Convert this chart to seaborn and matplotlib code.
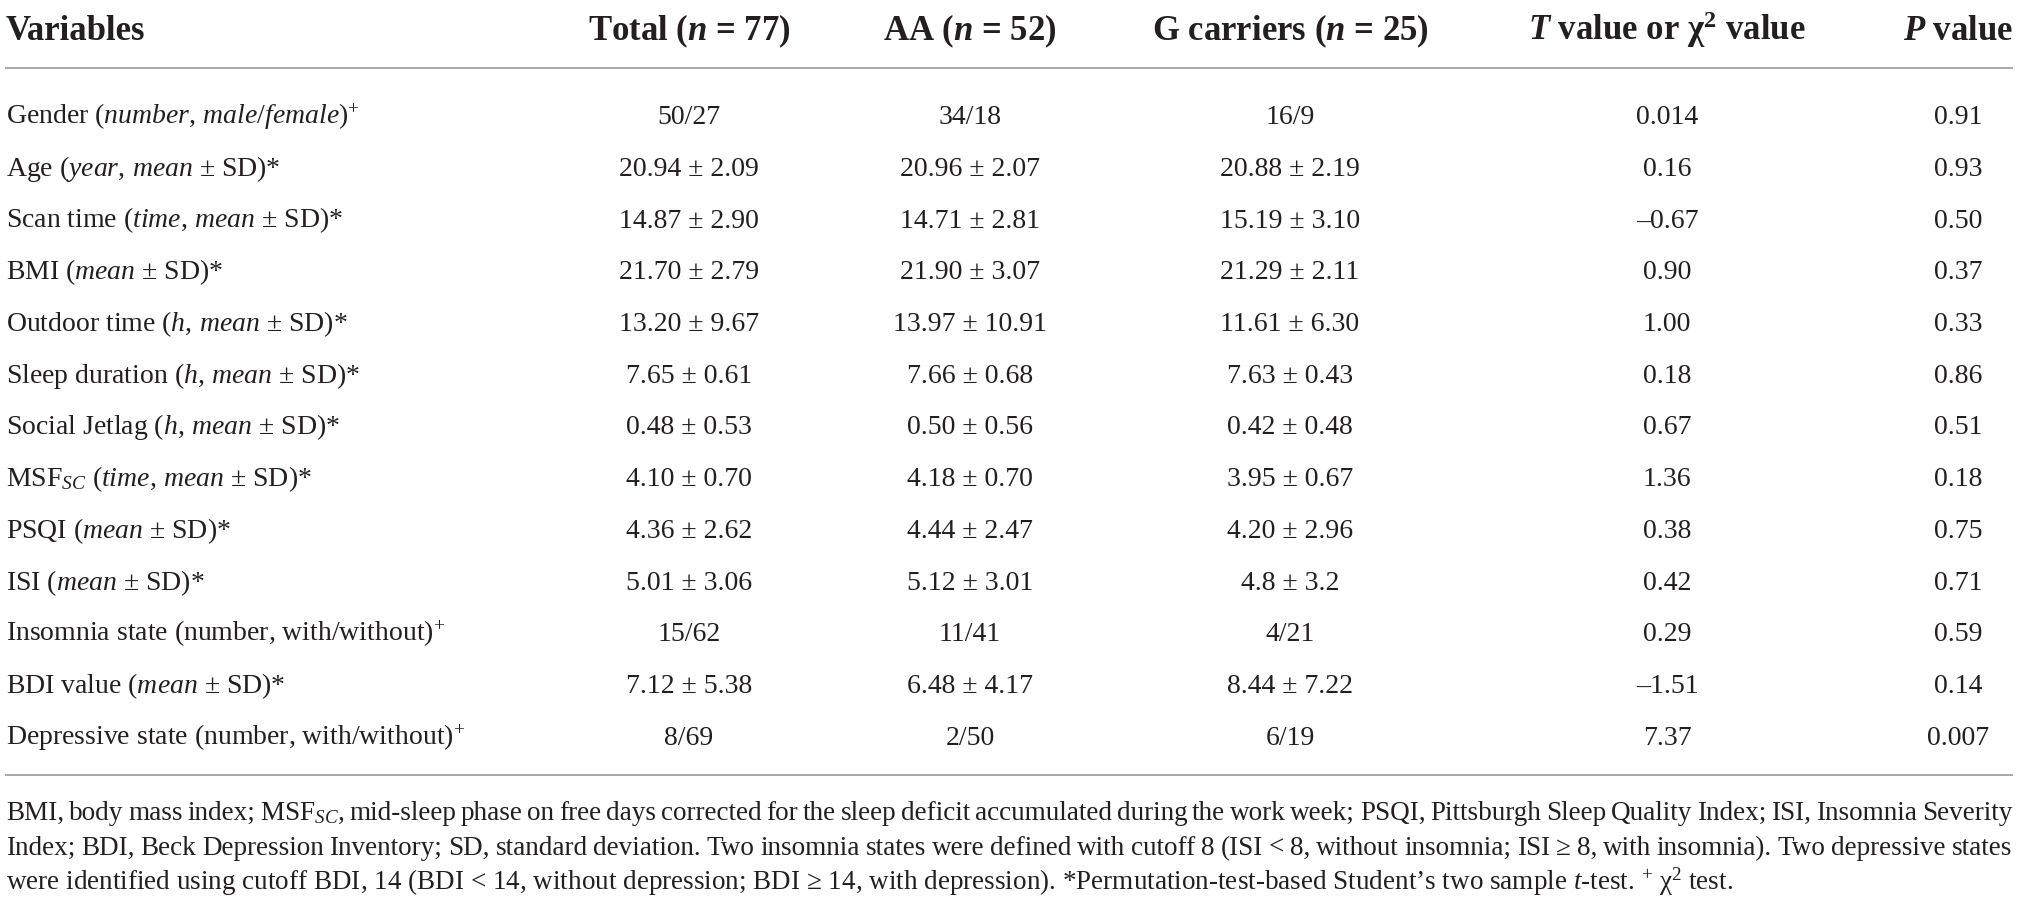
import matplotlib

matplotlib.use("Agg")
import matplotlib.pyplot as plt
import seaborn as sns

# table content
headers = [
    "Variables",
    "Total ($\\mathbf{n}$ = 77)",
    "AA ($\\mathbf{n}$ = 52)",
    "G carriers ($\\mathbf{n}$ = 25)",
    "$\\mathbf{T}$ value or χ$^{\\mathsf{2}}$ value",
    "$\\mathbf{P}$ value",
]

variables = [
    "Gender ($\\mathit{number,\\,male/female}$)$^{+}$",
    "Age ($\\mathit{year,\\,mean}$ ± SD)*",
    "Scan time ($\\mathit{time,\\,mean}$ ± SD)*",
    "BMI ($\\mathit{mean}$ ± SD)*",
    "Outdoor time ($\\mathit{h,\\,mean}$ ± SD)*",
    "Sleep duration ($\\mathit{h,\\,mean}$ ± SD)*",
    "Social Jetlag ($\\mathit{h,\\,mean}$ ± SD)*",
    "MSF$_{SC}$ ($\\mathit{time,\\,mean}$ ± SD)*",
    "PSQI ($\\mathit{mean}$ ± SD)*",
    "ISI ($\\mathit{mean}$ ± SD)*",
    "Insomnia state (number, with/without)$^{+}$",
    "BDI value ($\\mathit{mean}$ ± SD)*",
    "Depressive state (number, with/without)$^{+}$",
]

total = ["50/27", "20.94 ± 2.09", "14.87 ± 2.90", "21.70 ± 2.79", "13.20 ± 9.67",
         "7.65 ± 0.61", "0.48 ± 0.53", "4.10 ± 0.70", "4.36 ± 2.62", "5.01 ± 3.06",
         "15/62", "7.12 ± 5.38", "8/69"]
aa = ["34/18", "20.96 ± 2.07", "14.71 ± 2.81", "21.90 ± 3.07", "13.97 ± 10.91",
      "7.66 ± 0.68", "0.50 ± 0.56", "4.18 ± 0.70", "4.44 ± 2.47", "5.12 ± 3.01",
      "11/41", "6.48 ± 4.17", "2/50"]
g_carriers = ["16/9", "20.88 ± 2.19", "15.19 ± 3.10", "21.29 ± 2.11", "11.61 ± 6.30",
              "7.63 ± 0.43", "0.42 ± 0.48", "3.95 ± 0.67", "4.20 ± 2.96", "4.8 ± 3.2",
              "4/21", "8.44 ± 7.22", "6/19"]
t_values = ["0.014", "0.16", "–0.67", "0.90", "1.00", "0.18", "0.67", "1.36",
            "0.38", "0.42", "0.29", "–1.51", "7.37"]
p_values = ["0.91", "0.93", "0.50", "0.37", "0.33", "0.86", "0.51", "0.18",
            "0.75", "0.71", "0.59", "0.14", "0.007"]

footnote = [
    "BMI, body mass index; MSF$_{SC}$, mid-sleep phase on free days corrected for the sleep "
    "deficit accumulated during the work week; PSQI, Pittsburgh Sleep Quality Index; ISI, "
    "Insomnia Severity",
    "Index; BDI, Beck Depression Inventory; SD, standard deviation. Two insomnia states were "
    "defined with cutoff 8 (ISI < 8, without insomnia; ISI ≥ 8, with insomnia). Two depressive "
    "states",
    "were identified using cutoff BDI, 14 (BDI < 14, without depression; BDI ≥ 14, with "
    "depression). *Permutation-test-based Student’s two sample $\\mathit{t}$-test. "
    "$^{+}$ χ$^{2}$ test.",
]


def main():
    sns.set_theme(style="white")
    plt.rcParams["font.family"] = ["Liberation Serif", "DejaVu Serif"]
    plt.rcParams["mathtext.fontset"] = "custom"
    plt.rcParams["mathtext.rm"] = "Liberation Serif"
    plt.rcParams["mathtext.it"] = "Liberation Serif:italic"
    plt.rcParams["mathtext.bf"] = "Liberation Serif:bold:italic"
    plt.rcParams["mathtext.sf"] = "Liberation Serif:bold"

    ink = "#231f20"
    rule = "#a8a8a8"

    fig = plt.figure(figsize=(20.19, 9.04), dpi=100)
    ax = fig.add_axes([0, 0, 1, 1])
    ax.set_xlim(0, 2019)
    ax.set_ylim(904, 0)
    ax.axis("off")

    col_x = [6, 689, 970, 1290, 1667, 1958]
    header_y = 40
    row_y0 = 124
    row_step = 51.75

    # header
    for i, h in enumerate(headers):
        ax.text(col_x[i], header_y, h, ha="left" if i == 0 else "center",
                va="baseline", fontsize=25, fontweight="bold", color=ink)

    ax.hlines([69, 776], 5, 2013, color=rule, lw=1.4)

    # body
    columns = [variables, total, aa, g_carriers, t_values, p_values]
    for r in range(len(variables)):
        y = row_y0 + r * row_step
        for c, col in enumerate(columns):
            ax.text(col_x[c], y, col[r], ha="left" if c == 0 else "center",
                    va="baseline", fontsize=20, color=ink)

    # footnote, first two lines justified
    renderer = fig.canvas.get_renderer()
    foot_y = [820, 855, 890]
    x0, x1 = 6, 2012
    for k, line in enumerate(footnote):
        if k == len(footnote) - 1:
            ax.text(x0, foot_y[k], line, ha="left", va="baseline",
                    fontsize=19.5, color=ink)
            continue
        words = line.split(" ")
        texts = [ax.text(0, foot_y[k], w, ha="left", va="baseline",
                         fontsize=19.5, color=ink) for w in words]
        widths = [t.get_window_extent(renderer).width for t in texts]
        gap = (x1 - x0 - sum(widths)) / (len(words) - 1)
        x = x0
        for t, w in zip(texts, widths):
            t.set_x(x)
            x += w + gap

    fig.savefig("out.png", dpi=100)


if __name__ == "__main__":
    main()
